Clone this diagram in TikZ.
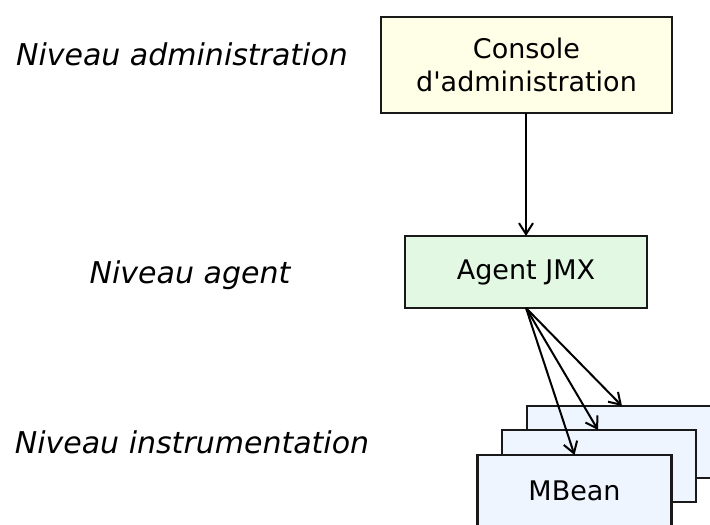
\documentclass[tikz,border=0pt]{standalone}
\usepackage{fontspec}
\setmainfont{DejaVu Sans}
\usetikzlibrary{arrows.meta,calc}
\definecolor{consolefill}{HTML}{FFFFE8}
\definecolor{agentfill}{HTML}{E2F8E2}
\definecolor{beanfill}{HTML}{EEF5FF}
\tikzset{
  box/.style={draw=black!90, line width=2.2pt, rectangle, inner sep=0pt, outer sep=0pt, align=center, font=\fontsize{27}{33}\selectfont},
  lvl/.style={font=\fontsize{30}{33}\selectfont\itshape, anchor=base, inner sep=0pt},
  conn/.style={line width=2pt, -{Straight Barb[length=11pt,width=14pt,line width=2pt]}},
}
\begin{document}
\begin{tikzpicture}[x=1pt,y=-1pt]
\useasboundingbox (0,0) rectangle (710,525);
\clip (0,0) rectangle (710,525);
\node[box, fill=consolefill, minimum width=291pt, minimum height=96pt] (console) at (526.5,65) {Console\\d\textquotesingle administration};
\node[box, fill=agentfill, minimum width=242pt, minimum height=72pt] (agent) at (526,272) {Agent JMX};
\node[box, fill=beanfill, minimum width=194pt, minimum height=72pt] (back) at (624,442) {};
\node[box, fill=beanfill, minimum width=194pt, minimum height=72pt] (middle) at (599,466) {};
\node[box, fill=beanfill, minimum width=194pt, minimum height=72pt] (front) at (574.5,491) {MBean};
\node[lvl] (l1) at (182,65) {Niveau administration};
\node[lvl] (l2) at (190,283) {Niveau agent};
\node[lvl] (l3) at (192,453) {Niveau instrumentation};
\draw[conn] (console.south -| agent.north) -- (agent.north);
\draw[conn] (agent.south) -- (front.north);
\draw[conn] (agent.south) -- ([xshift=-1pt]middle.north);
\draw[conn] (agent.south) -- ([xshift=-2pt]back.north);
\end{tikzpicture}
\end{document}
